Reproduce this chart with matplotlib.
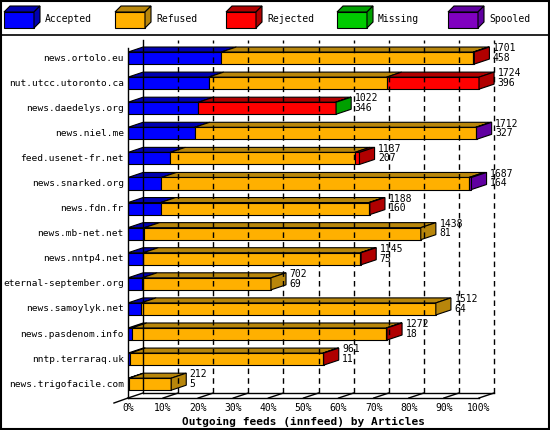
import matplotlib
matplotlib.use("Agg")
import numpy as np
from matplotlib import pyplot as plt
from matplotlib.patches import Polygon, Rectangle

hosts = ['news.ortolo.eu', 'nut.utcc.utoronto.ca', 'news.daedelys.org', 'news.niel.me',
         'feed.usenet-fr.net', 'news.snarked.org', 'news.fdn.fr', 'news.mb-net.net',
         'news.nntp4.net', 'eternal-september.org', 'news.samoylyk.net',
         'news.pasdenom.info', 'nntp.terraraq.uk', 'news.trigofacile.com']
totals = [1701, 1724, 1022, 1712, 1137, 1687, 1188, 1438, 1145, 702, 1512, 1272, 961, 212]
accepted = [458, 396, 346, 327, 207, 164, 160, 81, 75, 69, 64, 18, 11, 5]
refused = [1238, 874, 0, 1381, 907, 1511, 1023, 1357, 1066, 633, 1448, 1250, 946, 207]
rejected = [5, 454, 674, 0, 23, 0, 5, 0, 4, 0, 0, 4, 4, 0]
missing = [0, 0, 2, 0, 0, 0, 0, 0, 0, 0, 0, 0, 0, 0]
spooled = [0, 0, 0, 4, 0, 12, 0, 0, 0, 0, 0, 0, 0, 0]

names = ['Accepted', 'Refused', 'Rejected', 'Missing', 'Spooled']
front = ['#0000ff', '#ffb000', '#ff0000', '#00cc00', '#8000c0']
dark = ['#0000b0', '#b8860b', '#b00000', '#00a000', '#6000a0']

plt.rcParams['font.family'] = 'DejaVu Sans Mono'
fig = plt.figure(figsize=(5.5, 4.3), dpi=100)
fig.patches.append(Rectangle((0.002, 0.002), 0.996, 0.996, transform=fig.transFigure,
                             fill=False, ec='black', lw=1.5))
fig.add_artist(plt.Line2D([0, 1], [1 - 35 / 430, 1 - 35 / 430], color='black', lw=1.2))

# legend with little 3d boxes
for k, (nm, fc, dc) in enumerate(zip(names, front, dark)):
    x0 = 4 + k * 111
    y0 = 430 - 28
    fx = lambda p: (p[0] / 550, p[1] / 430)
    fig.patches.append(Polygon([fx((x0, y0)), fx((x0 + 30, y0)), fx((x0 + 30, y0 + 16)), fx((x0, y0 + 16))],
                               closed=True, fc=fc, ec='black', lw=0.8, transform=fig.transFigure))
    fig.patches.append(Polygon([fx((x0, y0 + 16)), fx((x0 + 6, y0 + 22)), fx((x0 + 36, y0 + 22)), fx((x0 + 30, y0 + 16))],
                               closed=True, fc=dc, ec='black', lw=0.8, transform=fig.transFigure))
    fig.patches.append(Polygon([fx((x0 + 30, y0)), fx((x0 + 36, y0 + 6)), fx((x0 + 36, y0 + 22)), fx((x0 + 30, y0 + 16))],
                               closed=True, fc=dc, ec='black', lw=0.8, transform=fig.transFigure))
    fig.text((x0 + 41) / 550, (y0 + 9) / 430, nm, fontsize=7, va='center')

ax = fig.add_axes([128 / 550, 32 / 430, 380 / 550, 358 / 430])
ax.set_xlim(0, 380 / 3.51)
ax.set_ylim(13.55, -0.72)
ax.axis('off')

scale = 100.0 / max(totals)
dx, dy = 4.3, -0.2
h = 0.48

# back grid, axes
yb = 13.55 + dy
for p in range(10, 101, 10):
    ax.plot([p + dx, p + dx], [yb, -0.72], ls=(0, (4, 3)), color='black', lw=1, clip_on=False)
ax.plot([dx, dx], [yb, -0.72], color='black', lw=1, clip_on=False)
ax.plot([0, 0], [13.55, -0.4], color='black', lw=1, clip_on=False)
ax.plot([0, 100], [13.55, 13.55], color='black', lw=1, clip_on=False)
ax.plot([dx, 100 + dx], [yb, yb], color='black', lw=1, clip_on=False)
ax.plot([-4, 0], [13.75, 13.55], color='black', lw=1, clip_on=False)
for p in range(0, 101, 10):
    ax.plot([p, p + dx], [13.55, yb], color='black', lw=1, clip_on=False)
    ax.text(p, 13.95, f'{p}%', ha='center', va='center', fontsize=7)
ax.text(50, 14.5, 'Outgoing feeds (innfeed) by Articles', ha='center', va='center',
        fontsize=8, fontweight='bold')

for i, host in enumerate(hosts):
    segs = [accepted[i], refused[i], rejected[i], missing[i], spooled[i]]
    left = 0.0
    last = None
    top = i - h / 2
    for k, v in enumerate(segs):
        if v <= 0:
            continue
        w = v * scale
        ax.add_patch(Polygon([(left, top), (left + dx, top + dy), (left + w + dx, top + dy), (left + w, top)],
                             closed=True, fc=dark[k], ec='black', lw=0.8))
        ax.add_patch(Rectangle((left, top), w, h, fc=front[k], ec='black', lw=0.8))
        left += w
        last = k
    ax.add_patch(Polygon([(left, top), (left + dx, top + dy), (left + dx, top + h + dy), (left, top + h)],
                         closed=True, fc=dark[last], ec='black', lw=0.8))
    ax.text(left + dx + 1, i - 0.2, f'{totals[i]}\n{accepted[i]}', fontsize=7, va='center',
            linespacing=0.95)
    ax.text(-1.2, i, host, ha='right', va='center', fontsize=6.8)

fig.savefig('out.png', dpi=100)
